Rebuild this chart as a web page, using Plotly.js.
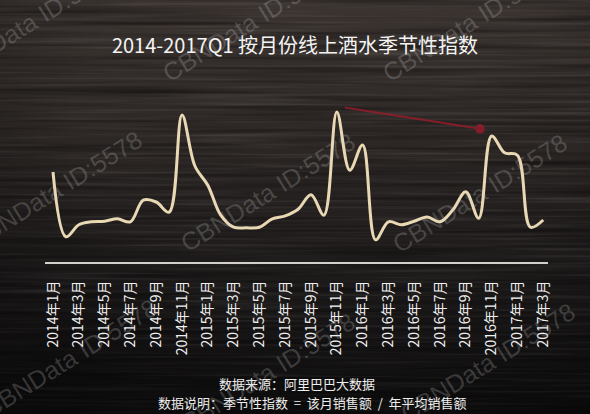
<!DOCTYPE html>
<html>
<head>
<meta charset="utf-8">
<script src="https://cdn.plot.ly/plotly-3.0.1.min.js"></script>
<style>
  html, body { margin: 0; padding: 0; background: #1a1717; }
  #wrap { position: relative; width: 590px; height: 414px; overflow: hidden; }
  #wood { position: absolute; left: 0; top: 0; width: 590px; height: 414px; }
  #chart { position: absolute; left: 0; top: 0; width: 590px; height: 414px; }
  .wm { position: absolute; font-family: "Liberation Sans", Arial, sans-serif; font-size: 25px;
        color: rgba(210,210,210,0.22); white-space: nowrap; transform-origin: center center;
        pointer-events: none; }
</style>
</head>
<body>
<div id="wrap">
  <svg id="wood" width="590" height="414" xmlns="http://www.w3.org/2000/svg">
    <defs>
      <linearGradient id="base" x1="0" y1="0" x2="0" y2="1">
        <stop offset="0" stop-color="#3b3431"/>
        <stop offset="0.35" stop-color="#2c2725"/>
        <stop offset="0.65" stop-color="#1e1b1b"/>
        <stop offset="1" stop-color="#111010"/>
      </linearGradient>
      <radialGradient id="vig" cx="0.55" cy="0.3" r="0.85">
        <stop offset="0.5" stop-color="#000" stop-opacity="0"/>
        <stop offset="1" stop-color="#000" stop-opacity="0.4"/>
      </radialGradient>
      <filter id="grainLight" x="0" y="0" width="100%" height="100%">
        <feTurbulence type="fractalNoise" baseFrequency="0.006 0.32" numOctaves="3" seed="11"/>
        <feColorMatrix type="matrix" values="0 0 0 0 0.8  0 0 0 0 0.76  0 0 0 0 0.74  1.5 0 0 0 -0.72"/>
      </filter>
      <filter id="grainDark" x="0" y="0" width="100%" height="100%">
        <feTurbulence type="fractalNoise" baseFrequency="0.004 0.18" numOctaves="2" seed="4"/>
        <feColorMatrix type="matrix" values="0 0 0 0 0  0 0 0 0 0  0 0 0 0 0  0 1.8 0 0 -0.8"/>
      </filter>
    </defs>
    <rect width="590" height="414" fill="url(#base)"/>
    <rect width="590" height="414" filter="url(#grainLight)" opacity="0.16"/>
    <rect width="590" height="414" filter="url(#grainDark)" opacity="0.5"/>
    <rect width="590" height="414" fill="url(#vig)"/>
  </svg>
  <div id="chart"></div>
</div>
<script>
// Monthly seasonal index of online liquor sales, 2014-01 .. 2017-03
const months = [
  '2014年1月','2014年2月','2014年3月','2014年4月','2014年5月','2014年6月',
  '2014年7月','2014年8月','2014年9月','2014年10月','2014年11月','2014年12月',
  '2015年1月','2015年2月','2015年3月','2015年4月','2015年5月','2015年6月',
  '2015年7月','2015年8月','2015年9月','2015年10月','2015年11月','2015年12月',
  '2016年1月','2016年2月','2016年3月','2016年4月','2016年5月','2016年6月',
  '2016年7月','2016年8月','2016年9月','2016年10月','2016年11月','2016年12月',
  '2017年1月','2017年2月','2017年3月'
];
const seasonalIndex = [
  1.50, 0.42, 0.62, 0.67, 0.68, 0.72,
  0.67, 1.03, 1.00, 0.83, 2.45, 1.60,
  1.28, 0.78, 0.58, 0.57, 0.58, 0.72,
  0.77, 0.88, 1.12, 0.78, 2.50, 1.53,
  1.95, 0.37, 0.67, 0.62, 0.68, 0.75,
  0.67, 0.87, 1.17, 0.73, 2.10, 1.82,
  1.78, 0.58, 0.70
];
// Every other month is labelled on the axis
const tickLabels = months.filter((m, i) => i % 2 === 0);

const titleText = '2014-2017Q1 按月份线上酒水季节性指数';
const sourceText = '数据来源：阿里巴巴大数据';
const noteText = '数据说明：季节性指数  =  该月销售额  /  年平均销售额';

const cjk = '"Noto Sans CJK SC", "Noto Sans", sans-serif';

// Red trend arrow from the 2015 Double-11 peak towards the 2016 one
const p15 = months.indexOf('2015年11月');
const p16 = months.indexOf('2016年11月');

const trace = {
  x: months,
  y: seasonalIndex,
  type: 'scatter',
  mode: 'lines',
  line: { color: '#e9d8b4', width: 3, shape: 'spline', smoothing: 1 },
  hoverinfo: 'x+y'
};

const layout = {
  width: 590, height: 414,
  paper_bgcolor: 'rgba(0,0,0,0)',
  plot_bgcolor: 'rgba(0,0,0,0)',
  margin: { l: 45, r: 42, t: 82, b: 152 },
  showlegend: false,
  title: {
    text: titleText,
    font: { family: cjk, size: 20, color: '#f4f4f4' },
    x: 0.5, xref: 'container', xanchor: 'center',
    y: 1 - 46 / 414, yref: 'container', yanchor: 'middle'
  },
  xaxis: {
    type: 'category',
    range: [-0.62, 38.37],
    tickvals: tickLabels,
    ticktext: tickLabels,
    tickangle: -90,
    ticks: '',
    ticklabelstandoff: 11,
    tickfont: { family: cjk, size: 14, color: '#f0f0f0' },
    showline: true, linecolor: '#d4d0cc', linewidth: 2,
    showgrid: false, zeroline: false, fixedrange: true
  },
  yaxis: {
    range: [0, 3],
    visible: false, showgrid: false, zeroline: false, fixedrange: true
  },
  annotations: [
    {
      x: p16 - 0.9, y: seasonalIndex[p16] + 0.12,
      ax: p15 + 0.5, ay: seasonalIndex[p15] + 0.08,
      xref: 'x', yref: 'y', axref: 'x', ayref: 'y',
      text: '', showarrow: true,
      arrowhead: 6, arrowsize: 1.2, arrowwidth: 2,
      arrowcolor: 'rgba(160,26,44,0.75)'
    },
    {
      text: sourceText, xref: 'paper', yref: 'paper',
      x: (297 - 45) / 503, y: (262 - 383) / 180,
      xanchor: 'center', yanchor: 'middle', showarrow: false,
      font: { family: cjk, size: 13, color: '#eeeeee' }
    },
    {
      text: noteText, xref: 'paper', yref: 'paper',
      x: (312 - 45) / 503, y: (262 - 402) / 180,
      xanchor: 'center', yanchor: 'middle', showarrow: false,
      font: { family: cjk, size: 13, color: '#eeeeee' }
    }
  ]
};

Plotly.newPlot('chart', [trace], layout, { displayModeBar: false, staticPlot: true });

// Watermark tiling
const wmText = 'CBNData ID:5578';
const wmCenters = [[30, 22], [250, 22], [470, 22], [55, 190], [268, 192], [480, 193], [70, 358], [268, 372], [488, 362]];
const wrap = document.getElementById('wrap');
wmCenters.forEach(([cx, cy]) => {
  const d = document.createElement('div');
  d.className = 'wm';
  d.textContent = wmText;
  wrap.appendChild(d);
  const w = d.offsetWidth, h = d.offsetHeight;
  d.style.left = (cx - w / 2) + 'px';
  d.style.top = (cy - h / 2) + 'px';
  d.style.transform = 'rotate(-32deg)';
});
</script>
</body>
</html>
